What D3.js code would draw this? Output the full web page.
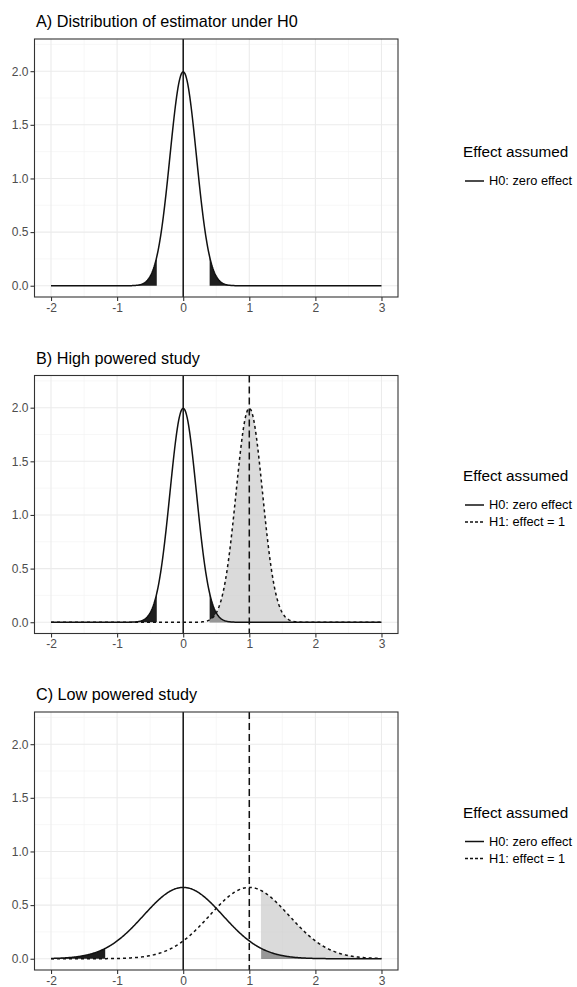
<!DOCTYPE html>
<html>
<head>
<meta charset="utf-8">
<script src="https://cdn.jsdelivr.net/npm/d3@7"></script>
<style>
  body { margin: 0; background: #fff; }
  text { font-family: "Liberation Sans", Arial, sans-serif; }
</style>
</head>
<body>
<svg width="577" height="987"></svg>
<script>
// panel titles and study setup (standard error of the estimator per panel)
const panelTitles = ["A) Distribution of estimator under H0", "B) High powered study", "C) Low powered study"]
const panelSE = [0.2, 0.2, 0.6]
const panelShowH1 = [false, true, true]
const nullEffect = 0
const altEffect = 1
const critZ = 1.96
const xTicks = [-2, -1, 0, 1, 2, 3]
const xMinor = [-1.5, -0.5, 0.5, 1.5, 2.5]
const yTicks = [0, 0.5, 1, 1.5, 2]
const yMinor = [0.25, 0.75, 1.25, 1.75, 2.25]
const xRange = [-2, 3]
const legendTitle = "Effect assumed"
const legendLabels = ["H0: zero effect", "H1: effect = 1"]

const dims = { width: 577, height: 987, left: 34.5, right: 398, top: 39, panelH: 258, step: 336.5 }

const dnorm = (x, m, s) => Math.exp(-0.5 * ((x - m) / s) ** 2) / (s * Math.sqrt(2 * Math.PI))
const grid = d3.range(xRange[0], xRange[1] + 0.0001, 0.01)

const svg = d3.select("svg")
const x = d3.scaleLinear().domain([-2.25, 3.25]).range([dims.left, dims.right])

panelTitles.forEach((title, i) => {
  let top = dims.top + i * dims.step
  let bottom = top + dims.panelH
  let y = d3.scaleLinear().domain([-0.105, 2.30]).range([bottom, top])
  let se = panelSE[i]
  let crit = critZ * se
  let g = svg.append("g")

  // title
  g.append("text").attr("x", 36).attr("y", top - 12).attr("font-size", 16.2).attr("fill", "#000").text(title)

  // grid
  g.selectAll(".xmin").data(xMinor).enter().append("line")
    .attr("x1", d => x(d)).attr("x2", d => x(d)).attr("y1", top).attr("y2", bottom)
    .attr("stroke", "#f2f2f2").attr("stroke-width", 0.6)
  g.selectAll(".ymin").data(yMinor).enter().append("line")
    .attr("y1", d => y(d)).attr("y2", d => y(d)).attr("x1", dims.left).attr("x2", dims.right)
    .attr("stroke", "#f2f2f2").attr("stroke-width", 0.6)
  g.selectAll(".xmaj").data(xTicks).enter().append("line")
    .attr("x1", d => x(d)).attr("x2", d => x(d)).attr("y1", top).attr("y2", bottom)
    .attr("stroke", "#ebebeb").attr("stroke-width", 1.1)
  g.selectAll(".ymaj").data(yTicks).enter().append("line")
    .attr("y1", d => y(d)).attr("y2", d => y(d)).attr("x1", dims.left).attr("x2", dims.right)
    .attr("stroke", "#ebebeb").attr("stroke-width", 1.1)

  let area = d3.area().x(d => x(d.x)).y0(y(0)).y1(d => y(d.y))
  let line = d3.line().x(d => x(d.x)).y(d => y(d.y))
  let h0 = grid.map(v => ({ x: v, y: dnorm(v, nullEffect, se) }))
  let h1 = grid.map(v => ({ x: v, y: dnorm(v, altEffect, se) }))

  // rejection regions under H0
  g.append("path").datum(h0.filter(d => d.x <= -crit)).attr("d", area).attr("fill", "#1e1e1e")
  g.append("path").datum(h0.filter(d => d.x >= crit)).attr("d", area).attr("fill", "#1e1e1e")

  if (panelShowH1[i]) {
    // power region under H1
    let pw = [{ x: crit, y: dnorm(crit, altEffect, se) }].concat(h1.filter(d => d.x > crit))
    g.append("path").datum(pw).attr("d", area).attr("fill", "#cbcbcb").attr("fill-opacity", 0.7)
    g.append("path").datum(h1).attr("d", line).attr("fill", "none")
      .attr("stroke", "#111").attr("stroke-width", 1.5).attr("stroke-dasharray", "3,3")
  }
  g.append("path").datum(h0).attr("d", line).attr("fill", "none")
    .attr("stroke", "#111").attr("stroke-width", 1.5)

  // vertical reference lines
  g.append("line").attr("x1", x(nullEffect)).attr("x2", x(nullEffect)).attr("y1", top).attr("y2", bottom)
    .attr("stroke", "#111").attr("stroke-width", 1.5)
  if (panelShowH1[i]) {
    g.append("line").attr("x1", x(altEffect)).attr("x2", x(altEffect)).attr("y1", top).attr("y2", bottom)
      .attr("stroke", "#111").attr("stroke-width", 1.5).attr("stroke-dasharray", "7,4")
  }

  // border
  g.append("rect").attr("x", dims.left).attr("y", top).attr("width", dims.right - dims.left).attr("height", dims.panelH)
    .attr("fill", "none").attr("stroke", "#333").attr("stroke-width", 1.1)

  // axes
  let xAxis = d3.axisBottom(x).tickValues(xTicks).tickSize(4).tickPadding(2).tickFormat(d => String(d))
  let xa = g.append("g").attr("transform", `translate(0,${bottom})`).call(xAxis)
  let yAxis = d3.axisLeft(y).tickValues(yTicks).tickSize(4).tickPadding(2).tickFormat(d3.format(".1f"))
  let ya = g.append("g").attr("transform", `translate(${dims.left},0)`).call(yAxis)
  for (let a of [xa, ya]) {
    a.select(".domain").remove()
    a.selectAll(".tick line").attr("stroke", "#333").attr("stroke-width", 1.1)
    a.selectAll(".tick text").attr("fill", "#4d4d4d").attr("font-size", 12)
      .attr("font-family", "'Liberation Sans', Arial, sans-serif")
  }

  // legend
  let n = panelShowH1[i] ? 2 : 1
  let mid = (top + bottom) / 2
  let ty = mid - 11 - (n - 1) * 12.5
  let lg = g.append("g")
  lg.append("text").attr("x", 463).attr("y", ty).attr("font-size", 15.3).attr("fill", "#000").text(legendTitle)
  lg.selectAll(".key").data(legendLabels.slice(0, n)).enter().append("line")
    .attr("x1", 465).attr("x2", 484)
    .attr("y1", (d, k) => ty + 24 + k * 17).attr("y2", (d, k) => ty + 24 + k * 17)
    .attr("stroke", "#111").attr("stroke-width", 1.5)
    .attr("stroke-dasharray", (d, k) => k == 1 ? "3,2" : null)
  lg.selectAll(".lab").data(legendLabels.slice(0, n)).enter().append("text")
    .attr("x", 489).attr("y", (d, k) => ty + 24 + k * 17).attr("dy", "0.35em")
    .attr("font-size", 12.8).attr("fill", "#000").text(d => d)
})
</script>
</body>
</html>
